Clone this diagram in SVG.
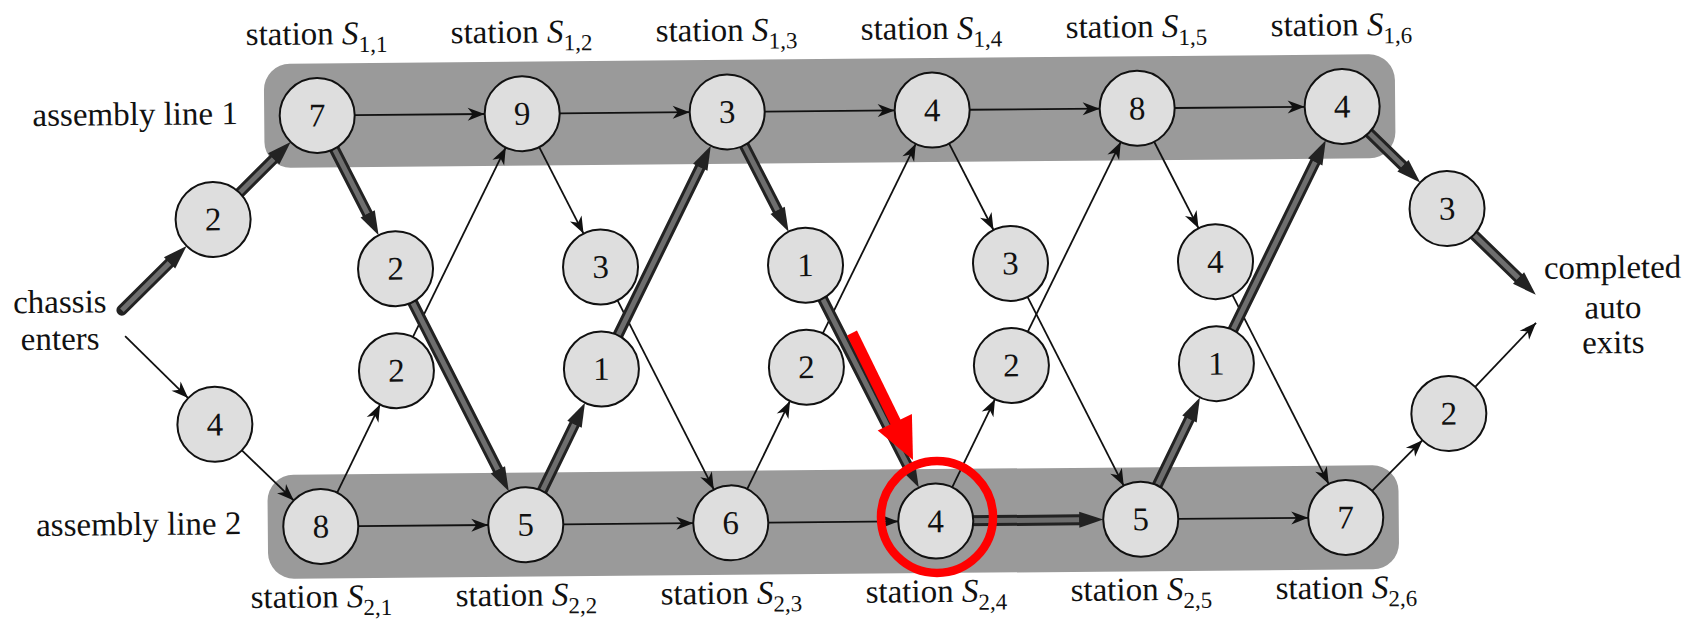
<svg xmlns="http://www.w3.org/2000/svg" width="1696" height="621" viewBox="0 0 1696 621">
<defs>
<style>
.band{fill:#9a9a9a;}
.node circle{fill:#dedede;stroke:#111;stroke-width:2;}
.node text,.lbl{font-family:"Liberation Serif","Times New Roman","DejaVu Serif",serif;font-size:33px;fill:#111;}
.node text,.lbl{text-anchor:middle;}
.thin{fill:none;stroke:#111;stroke-width:1.8;marker-end:url(#ah);}
.tko{fill:none;stroke:#222;stroke-width:11;stroke-linecap:round;}
.tki{fill:none;stroke:#6e6e6e;stroke-width:5;marker-end:url(#aht);}
.sub{font-size:23px;}
.it{font-style:italic;}
</style>
<marker id="ah" viewBox="-18 -8 20 16" refX="0" refY="0" markerWidth="20" markerHeight="16" markerUnits="userSpaceOnUse" orient="auto"><path d="M0,0 L-17,-6.5 L-12,0 L-17,6.5 Z" fill="#111"/></marker>
<marker id="aht" viewBox="-1 -10 27 20" refX="0" refY="0" markerWidth="27" markerHeight="20" markerUnits="userSpaceOnUse" orient="auto"><path d="M0,-8 L24,0 L0,8 Z" fill="#222"/></marker>
</defs>
<rect width="1696" height="621" fill="#fff"/>
<g transform="rotate(-0.5 830 320)">
<g id="bands">
<rect class="band" x="266" y="59" width="1131" height="104" rx="26"/>
<rect class="band" x="266" y="470" width="1131" height="104" rx="26"/>
</g>
<g id="connectors">
<path class="thin" d="M356.5,111 L486.5,111"/>
<path class="thin" d="M561.5,111 L691.5,111"/>
<path class="thin" d="M766.5,111 L896.5,111"/>
<path class="thin" d="M971.5,111 L1101.5,111"/>
<path class="thin" d="M1176.5,111 L1306.5,111"/>
<path class="thin" d="M356.5,522 L486.5,522"/>
<path class="thin" d="M561.5,522 L691.5,522"/>
<path class="thin" d="M766.5,522 L896.5,522"/>
<path class="thin" d="M1176.5,522 L1306.5,522"/>
<path class="thin" d="M540.7,144.6 L584.3,231.4"/>
<path class="thin" d="M950.7,144.6 L994.3,231.4"/>
<path class="thin" d="M1155.7,144.6 L1199.3,231.4"/>
<path class="thin" d="M617.7,298.6 L712.3,488.4"/>
<path class="thin" d="M1027.7,298.6 L1122.3,488.4"/>
<path class="thin" d="M1232.7,298.6 L1327.3,488.4"/>
<path class="thin" d="M335.7,488.4 L379.3,400.6"/>
<path class="thin" d="M745.7,488.4 L789.3,400.6"/>
<path class="thin" d="M950.7,488.4 L994.3,400.6"/>
<path class="thin" d="M412.7,333.4 L507.3,144.6"/>
<path class="thin" d="M822.7,333.4 L917.3,144.6"/>
<path class="thin" d="M1027.7,333.4 L1122.3,144.6"/>
<path class="thin" d="M125,330 L187.5,392.5"/>
<path class="thin" d="M240.8,445.3 L292.2,495.7"/>
<path class="thin" d="M1370.6,495.6 L1421.4,445.4"/>
<path class="thin" d="M1474.6,392.6 L1536,329"/>
<path class="tko" d="M122,304 L170.1,257.1"/><path class="tki" d="M122,304 L170.1,257.1"/>
<path class="tko" d="M214,214 L275.1,154.1"/><path class="tki" d="M214,214 L275.1,154.1"/>
<path class="tko" d="M319,111 L368.6,209.9"/><path class="tki" d="M319,111 L368.6,209.9"/>
<path class="tko" d="M396,265 L496.6,466.9"/><path class="tki" d="M396,265 L496.6,466.9"/>
<path class="tko" d="M524,522 L573.6,422.1"/><path class="tki" d="M524,522 L573.6,422.1"/>
<path class="tko" d="M601,367 L701.6,166.1"/><path class="tki" d="M601,367 L701.6,166.1"/>
<path class="tko" d="M729,111 L778.6,209.9"/><path class="tki" d="M729,111 L778.6,209.9"/>
<path class="tko" d="M806,265 L906.6,466.9"/><path class="tki" d="M806,265 L906.6,466.9"/>
<path class="tko" d="M934,522 L1077.5,522"/><path class="tki" d="M934,522 L1077.5,522"/>
<path class="tko" d="M1139,522 L1188.6,422.1"/><path class="tki" d="M1139,522 L1188.6,422.1"/>
<path class="tko" d="M1216,367 L1316.6,166.1"/><path class="tki" d="M1216,367 L1316.6,166.1"/>
<path class="tko" d="M1344,111 L1404.3,170.7"/><path class="tki" d="M1344,111 L1404.3,170.7"/>
<path class="tko" d="M1448,214 L1518.9,284.1"/><path class="tki" d="M1448,214 L1518.9,284.1"/>
</g>
<g id="n-s11" class="node"><circle cx="319" cy="111" r="37.5"/><text x="319" y="122">7</text></g>
<g id="n-s12" class="node"><circle cx="524" cy="111" r="37.5"/><text x="524" y="122">9</text></g>
<g id="n-s13" class="node"><circle cx="729" cy="111" r="37.5"/><text x="729" y="122">3</text></g>
<g id="n-s14" class="node"><circle cx="934" cy="111" r="37.5"/><text x="934" y="122">4</text></g>
<g id="n-s15" class="node"><circle cx="1139" cy="111" r="37.5"/><text x="1139" y="122">8</text></g>
<g id="n-s16" class="node"><circle cx="1344" cy="111" r="37.5"/><text x="1344" y="122">4</text></g>
<g id="n-s21" class="node"><circle cx="319" cy="522" r="37.5"/><text x="319" y="533">8</text></g>
<g id="n-s22" class="node"><circle cx="524" cy="522" r="37.5"/><text x="524" y="533">5</text></g>
<g id="n-s23" class="node"><circle cx="729" cy="522" r="37.5"/><text x="729" y="533">6</text></g>
<g id="n-s24" class="node"><circle cx="934" cy="522" r="37.5"/><text x="934" y="533">4</text></g>
<g id="n-s25" class="node"><circle cx="1139" cy="522" r="37.5"/><text x="1139" y="533">5</text></g>
<g id="n-s26" class="node"><circle cx="1344" cy="522" r="37.5"/><text x="1344" y="533">7</text></g>
<g id="n-t11" class="node"><circle cx="396" cy="265" r="37.5"/><text x="396" y="276">2</text></g>
<g id="n-t12" class="node"><circle cx="601" cy="265" r="37.5"/><text x="601" y="276">3</text></g>
<g id="n-t13" class="node"><circle cx="806" cy="265" r="37.5"/><text x="806" y="276">1</text></g>
<g id="n-t14" class="node"><circle cx="1011" cy="265" r="37.5"/><text x="1011" y="276">3</text></g>
<g id="n-t15" class="node"><circle cx="1216" cy="265" r="37.5"/><text x="1216" y="276">4</text></g>
<g id="n-t21" class="node"><circle cx="396" cy="367" r="37.5"/><text x="396" y="378">2</text></g>
<g id="n-t22" class="node"><circle cx="601" cy="367" r="37.5"/><text x="601" y="378">1</text></g>
<g id="n-t23" class="node"><circle cx="806" cy="367" r="37.5"/><text x="806" y="378">2</text></g>
<g id="n-t24" class="node"><circle cx="1011" cy="367" r="37.5"/><text x="1011" y="378">2</text></g>
<g id="n-t25" class="node"><circle cx="1216" cy="367" r="37.5"/><text x="1216" y="378">1</text></g>
<g id="n-e1" class="node"><circle cx="214" cy="214" r="37.5"/><text x="214" y="225">2</text></g>
<g id="n-e2" class="node"><circle cx="214" cy="419" r="37.5"/><text x="214" y="430">4</text></g>
<g id="n-x1" class="node"><circle cx="1448" cy="214" r="37.5"/><text x="1448" y="225">3</text></g>
<g id="n-x2" class="node"><circle cx="1448" cy="419" r="37.5"/><text x="1448" y="430">2</text></g>
<g id="labels">
<text class="lbl" x="319" y="40">station <tspan class="it">S</tspan><tspan class="sub" dy="8">1,1</tspan></text>
<text class="lbl" x="524" y="40">station <tspan class="it">S</tspan><tspan class="sub" dy="8">1,2</tspan></text>
<text class="lbl" x="729" y="40">station <tspan class="it">S</tspan><tspan class="sub" dy="8">1,3</tspan></text>
<text class="lbl" x="934" y="40">station <tspan class="it">S</tspan><tspan class="sub" dy="8">1,4</tspan></text>
<text class="lbl" x="1139" y="40">station <tspan class="it">S</tspan><tspan class="sub" dy="8">1,5</tspan></text>
<text class="lbl" x="1344" y="40">station <tspan class="it">S</tspan><tspan class="sub" dy="8">1,6</tspan></text>
<text class="lbl" x="319" y="603">station <tspan class="it">S</tspan><tspan class="sub" dy="8">2,1</tspan></text>
<text class="lbl" x="524" y="603">station <tspan class="it">S</tspan><tspan class="sub" dy="8">2,2</tspan></text>
<text class="lbl" x="729" y="603">station <tspan class="it">S</tspan><tspan class="sub" dy="8">2,3</tspan></text>
<text class="lbl" x="934" y="603">station <tspan class="it">S</tspan><tspan class="sub" dy="8">2,4</tspan></text>
<text class="lbl" x="1139" y="603">station <tspan class="it">S</tspan><tspan class="sub" dy="8">2,5</tspan></text>
<text class="lbl" x="1344" y="603">station <tspan class="it">S</tspan><tspan class="sub" dy="8">2,6</tspan></text>
<text class="lbl" x="137" y="119">assembly line 1</text>
<text class="lbl" x="137" y="529">assembly line 2</text>
<text class="lbl" x="60" y="306">chassis</text>
<text class="lbl" x="60" y="343">enters</text>
<text class="lbl" x="1613" y="285">completed</text>
<text class="lbl" x="1613" y="325">auto</text>
<text class="lbl" x="1613" y="360">exits</text>
</g>
</g>
<g id="annotation">
<line x1="852" y1="333" x2="897" y2="425" stroke="#ff0000" stroke-width="11"/>
<polygon points="913,460 877.7,430.4 911.9,414" fill="#ff0000"/>
<circle cx="937" cy="517" r="56" fill="none" stroke="#ff0000" stroke-width="8.5"/>
</g>
</svg>
